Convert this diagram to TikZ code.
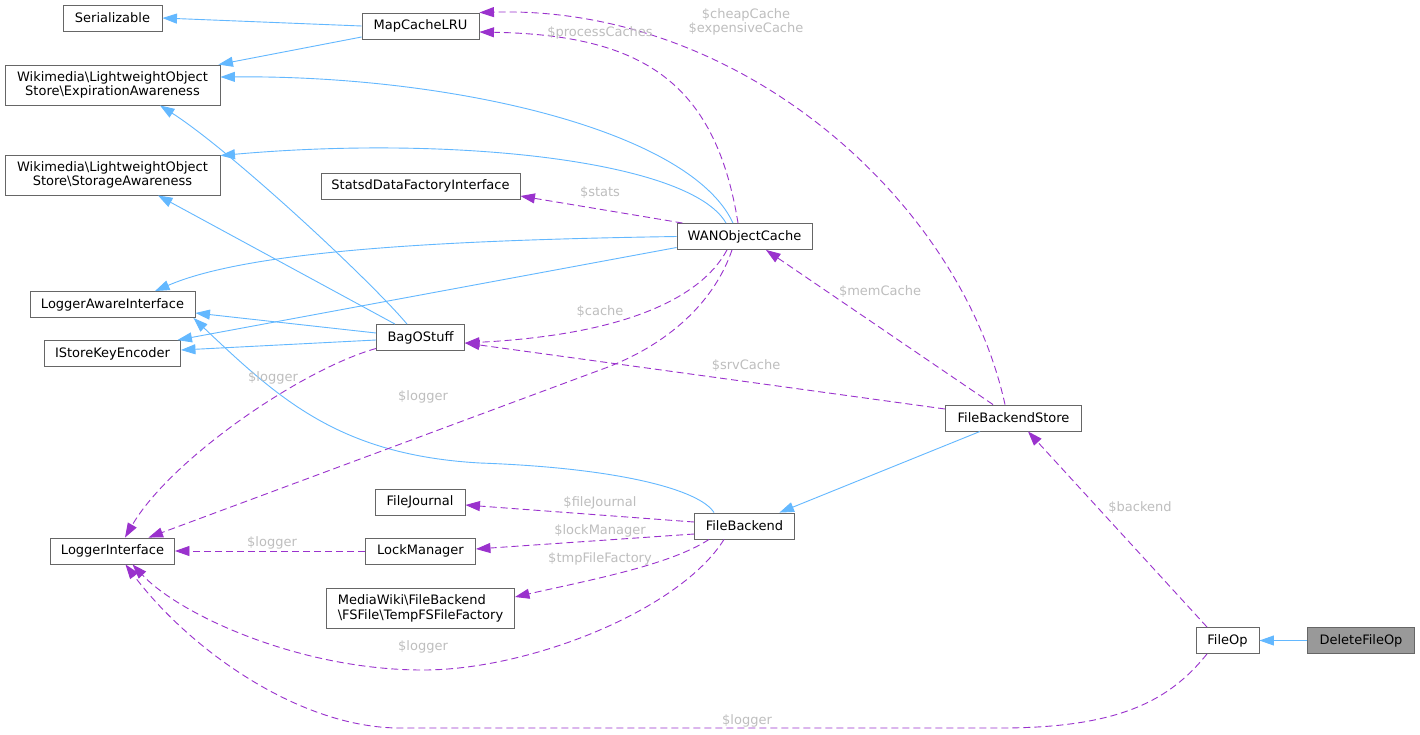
\documentclass[tikz,border=0pt]{standalone}
\usepackage{fontspec}
\setmainfont{DejaVu Sans}
\usetikzlibrary{arrows.meta,calc}
\definecolor{inhblue}{HTML}{63B8FF}
\definecolor{usepurple}{HTML}{9A32CD}
\definecolor{nodeborder}{HTML}{666666}
\definecolor{lblgray}{HTML}{BEBEBE}
\definecolor{curfill}{HTML}{999999}
\newcommand\dxfont{\fontsize{13}{14.5}\selectfont}
\tikzset{
  cls/.style={draw=nodeborder, line width=0.9pt, fill=white, inner sep=0pt,
    font=\dxfont, text=black, align=center, minimum height=26pt},
  cls2/.style={cls, minimum height=40pt},
  inh/.style={draw=inhblue, line width=0.9pt, -{Triangle[length=14.5pt,width=10pt,fill=inhblue]}},
  use/.style={draw=usepurple, line width=0.9pt, dash pattern=on 7pt off 4pt,
    -{Triangle[length=14.5pt,width=10pt,fill=usepurple]}},
  lbl/.style={font=\dxfont, text=lblgray, inner sep=0pt, align=center}
}
\begin{document}
\begin{tikzpicture}[x=1pt,y=-1pt]
\useasboundingbox (0,0) rectangle (1420,734);
\fill[white] (0,0) rectangle (1420,734);

% nodes
\node[cls, minimum width=99pt] (serial) at (112.5,18) {Serializable};
\node[cls, minimum width=117pt] (mapcache) at (420.5,26) {MapCacheLRU};
\node[cls2, minimum width=215pt] (expir) at (112.5,85) {Wikimedia\textbackslash{}LightweightObject\\Store\textbackslash{}ExpirationAwareness};
\node[cls2, minimum width=215pt] (storage) at (112.5,175) {Wikimedia\textbackslash{}LightweightObject\\Store\textbackslash{}StorageAwareness};
\node[cls, minimum width=199pt] (statsd) at (420.5,186) {StatsdDataFactoryInterface};
\node[cls, minimum width=135pt] (wan) at (744.5,236.5) {WANObjectCache};
\node[cls, minimum width=165pt] (lai) at (112.5,304.5) {LoggerAwareInterface};
\node[cls, minimum width=136pt] (iske) at (112.5,353.5) {IStoreKeyEncoder};
\node[cls, minimum width=88pt] (bag) at (420.5,337.5) {BagOStuff};
\node[cls, minimum width=136pt] (fbs) at (1013.5,418) {FileBackendStore};
\node[cls, minimum width=90pt] (fj) at (420,502) {FileJournal};
\node[cls, minimum width=100pt] (fb) at (744.5,526) {FileBackend};
\node[cls, minimum width=124pt] (li) at (112.5,551) {LoggerInterface};
\node[cls, minimum width=110pt] (lm) at (420.5,551) {LockManager};
\node[cls2, minimum width=188pt, align=left] (tmp) at (420.5,608.5) {MediaWiki\textbackslash{}FileBackend\\\textbackslash{}FSFile\textbackslash{}TempFSFileFactory};
\node[cls, minimum width=63pt] (fileop) at (1227.5,640.5) {FileOp};
\node[cls, minimum width=107pt, fill=curfill] (del) at (1361,640.5) {DeleteFileOp};

% inheritance edges
\draw[inh] (mapcache.west) -- (serial.east);
\draw[inh] ($(mapcache.west)+(0,11)$) -- ($(expir.north east)+(-2,0)$);
\draw[inh] ($(wan.north)+(-11.5,0)$) .. controls (690,130) and (450,75) .. ($(expir.east)+(0,-8)$);
\draw[inh] ($(wan.north)+(-18.5,0)$) .. controls (690,160) and (450,135) .. ($(storage.north east)+(0,1)$);
\draw[inh] ($(bag.north)+(-13.5,0)$) .. controls (370,280) and (230,150) .. ($(expir.south)+(47.5,0)$);
\draw[inh] ($(bag.north)+(-25.5,0)$) -- ($(storage.south)+(45.5,0)$);
\draw[inh] (wan.west) .. controls (450,240) and (250,250) .. ($(lai.north)+(42.5,0)$);
\draw[inh] ($(wan.west)+(0,11)$) -- ($(iske.north east)+(-3.5,0)$);
\draw[inh] ($(bag.west)+(0,-4.5)$) -- ($(lai.east)+(0,8.5)$);
\draw[inh] ($(bag.west)+(0,2.5)$) -- ($(iske.east)+(0,-3.5)$);
\draw[inh] ($(fb.north)+(-30.5,0)$) .. controls (700,490) and (620,468) .. (480,463)
   .. controls (340,455) and (280,400) .. ($(lai.south east)+(-2,0)$);
\draw[inh] ($(fbs.south)+(-33.5,0)$) -- ($(fb.north east)+(-15.5,0)$);
\draw[inh] (del.west) -- (fileop.east);

% usage edges
\draw[use] ($(fbs.north)+(-8.5,0)$) .. controls (960,200) and (740,5) .. (mapcache.north east);
\draw[use] ($(wan.north)+(-6.5,0)$) .. controls (715,80) and (640,35) .. ($(mapcache.east)+(0,6)$);
\draw[use] ($(wan.north west)+(6,0)$) -- ($(statsd.east)+(0,10)$);
\draw[use] ($(wan.south)+(-17.5,0)$) .. controls (700,300) and (620,335) .. ($(bag.east)+(0,5.5)$);
\draw[use] ($(wan.south)+(-12.5,0)$) .. controls (715,300) and (670,345) .. (600,370) -- ($(li.north)+(36,0)$);
\draw[use] ($(fbs.north)+(-20.5,0)$) -- ($(wan.south)+(21.5,0)$);
\draw[use] ($(fbs.west)+(0,-9)$) -- ($(bag.east)+(0,5.5)$);
\draw[use] ($(bag.south west)+(0,-2.5)$) .. controls (300,370) and (170,460) .. ($(li.north)+(12.5,0)$);
\draw[use] ($(fileop.north)+(-20.5,0)$) -- ($(fbs.south)+(14.5,0)$);
\draw[use] ($(fb.west)+(0,-4)$) -- ($(fj.east)+(0,3)$);
\draw[use] ($(fb.west)+(0,8)$) -- ($(lm.east)+(0,-2)$);
\draw[use] (lm.west) -- (li.east);
\draw[use] ($(fb.south)+(-35.5,0)$) .. controls (670,565) and (590,580) .. ($(tmp.east)+(0,-11.5)$);
\draw[use] ($(fb.south)+(-20.5,0)$) .. controls (680,610) and (530,670) .. (423,670)
   .. controls (300,670) and (180,615) .. ($(li.south)+(20,0)$);
\draw[use] ($(fileop.south)+(-20.5,0)$) .. controls (1170,700) and (1120,728) .. (1000,728) -- (400,728)
   .. controls (300,728) and (190,650) .. ($(li.south)+(13,0)$);

% labels
\node[lbl] (lcheap) at (746,22) {\$cheapCache\\\$expensiveCache};
\node[lbl] (lproc) at (600,33) {\$processCaches};
\node[lbl] (lstats) at (600,193) {\$stats};
\node[lbl] (lcache) at (600,312) {\$cache};
\node[lbl] (lmem) at (880,292) {\$memCache};
\node[lbl] (lsrv) at (746,366) {\$srvCache};
\node[lbl] (llog1) at (273,378) {\$logger};
\node[lbl] (llog2) at (423,397) {\$logger};
\node[lbl] (lbackend) at (1140,508) {\$backend};
\node[lbl] (lfj) at (600,503) {\$fileJournal};
\node[lbl] (llm) at (600,531) {\$lockManager};
\node[lbl] (ltmp) at (600,559) {\$tmpFileFactory};
\node[lbl] (llog3) at (272,543) {\$logger};
\node[lbl] (llog4) at (423,647) {\$logger};
\node[lbl] (llog5) at (747,721) {\$logger};
\end{tikzpicture}
\end{document}
